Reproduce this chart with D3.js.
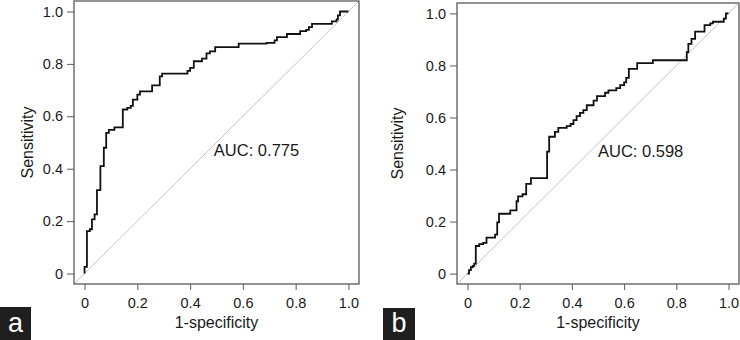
<!DOCTYPE html>
<html>
<head>
<meta charset="utf-8">
<script src="https://cdn.jsdelivr.net/npm/d3@7"></script>
<style>
  html, body { margin: 0; padding: 0; background: #fff; }
  svg { display: block; }
</style>
</head>
<body>
<div id="chart"></div>
<script>
// ROC curves — two panels, step curves + chance diagonal
// points are [1-specificity, sensitivity] at each rise (step-after)

const ROC_A = [
  [0, 0], [0, 0.025], [0.009, 0.162], [0.02, 0.169], [0.028, 0.207],
  [0.038, 0.226], [0.047, 0.318], [0.06, 0.41], [0.073, 0.48], [0.082, 0.537],
  [0.092, 0.548], [0.113, 0.558], [0.145, 0.626], [0.162, 0.632], [0.175, 0.64],
  [0.183, 0.664], [0.2, 0.683], [0.21, 0.695], [0.256, 0.718], [0.285, 0.752],
  [0.294, 0.763], [0.39, 0.773], [0.4, 0.785], [0.414, 0.81], [0.445, 0.82],
  [0.462, 0.84], [0.475, 0.848], [0.495, 0.864], [0.584, 0.877], [0.69, 0.88],
  [0.72, 0.89], [0.729, 0.902], [0.767, 0.914], [0.817, 0.925], [0.84, 0.93],
  [0.85, 0.94], [0.862, 0.953], [0.937, 0.962], [0.955, 0.97], [0.96, 0.985],
  [0.968, 1.0], [1.0, 1.0]
];

const ROC_B = [
  [0, 0], [0.006, 0.013], [0.013, 0.025], [0.02, 0.03], [0.026, 0.038],
  [0.032, 0.106], [0.045, 0.113], [0.06, 0.118], [0.073, 0.138], [0.106, 0.15],
  [0.114, 0.197], [0.121, 0.23], [0.164, 0.243], [0.188, 0.278], [0.194, 0.297],
  [0.211, 0.305], [0.225, 0.345], [0.243, 0.367], [0.305, 0.469], [0.313, 0.526],
  [0.335, 0.545], [0.348, 0.56], [0.38, 0.567], [0.395, 0.575], [0.406, 0.59],
  [0.418, 0.605], [0.431, 0.618], [0.444, 0.628], [0.457, 0.647], [0.483, 0.665],
  [0.496, 0.682], [0.527, 0.695], [0.54, 0.704], [0.57, 0.713], [0.585, 0.724],
  [0.6, 0.735], [0.608, 0.752], [0.618, 0.787], [0.65, 0.809], [0.71, 0.82],
  [0.84, 0.851], [0.846, 0.883], [0.858, 0.902], [0.872, 0.93], [0.908, 0.955],
  [0.93, 0.962], [0.94, 0.968], [0.982, 0.98], [0.99, 1.0], [1.0, 1.0]
];

const TICKS = [0, 0.2, 0.4, 0.6, 0.8, 1.0];
const AUC_LABELS = ['AUC: 0.775', 'AUC: 0.598'];
const AUC_POS = [[0.49, 0.449], [0.5, 0.449]];   // data coords, left/baseline
const PANEL_LETTERS = ['a', 'b'];
const X_TITLE = '1-specificity';
const Y_TITLE = 'Sensitivity';

const W = 740, H = 340;
const FONT = '"Liberation Sans", Arial, Helvetica, sans-serif';

// plot boxes (pixel frame of each panel)
const PANELS = [
  { data: ROC_A, box: { l: 74, r: 359, t: 1, b: 284 }, yTitleX: 27, tag: { x: 0, y: 307, w: 31, h: 33 } },
  { data: ROC_B, box: { l: 457, r: 739, t: 3, b: 284 }, yTitleX: 397, tag: { x: 383, y: 308, w: 32, h: 32 } },
];

const svg = d3.select('#chart').append('svg')
  .attr('width', W).attr('height', H)
  .attr('viewBox', `0 0 ${W} ${H}`);

const fmt = d => d === 0 ? '0' : d.toFixed(1);

PANELS.forEach((p, i) => {
  const b = p.box;
  const g = svg.append('g');

  // R-style 4% padding around [0,1]
  const x = d3.scaleLinear().domain([-0.04, 1.04]).range([b.l, b.r]);
  const y = d3.scaleLinear().domain([-0.04, 1.04]).range([b.b, b.t]);

  // chance diagonal across the whole plot region
  g.append('line')
    .attr('x1', x(-0.04)).attr('y1', y(-0.04))
    .attr('x2', x(1.04)).attr('y2', y(1.04))
    .attr('stroke', '#c4c4c4').attr('stroke-width', 1);

  // ROC step curve
  const line = d3.line()
    .x(d => x(d[0])).y(d => y(d[1]))
    .curve(d3.curveStepAfter);
  g.append('path')
    .attr('d', line(p.data))
    .attr('fill', 'none')
    .attr('stroke', '#111')
    .attr('stroke-width', 1.8)
    .attr('stroke-linejoin', 'miter');

  // frame
  g.append('rect')
    .attr('x', b.l).attr('y', b.t)
    .attr('width', b.r - b.l).attr('height', b.b - b.t)
    .attr('fill', 'none').attr('stroke', '#5a5a5a').attr('stroke-width', 1.3);

  // axes (ticks outside the frame, no domain line)
  const xAxis = g.append('g').attr('transform', `translate(0,${b.b})`)
    .call(d3.axisBottom(x).tickValues(TICKS).tickFormat(fmt).tickSize(6).tickPadding(8));
  const yAxis = g.append('g').attr('transform', `translate(${b.l},0)`)
    .call(d3.axisLeft(y).tickValues(TICKS).tickFormat(fmt).tickSize(7).tickPadding(4));
  [xAxis, yAxis].forEach(a => {
    a.select('.domain').remove();
    a.selectAll('line').attr('stroke', '#5a5a5a').attr('stroke-width', 1);
    a.selectAll('text')
      .attr('font-family', FONT).attr('font-size', 14.5).attr('fill', '#1a1a1a');
  });

  // axis titles
  g.append('text')
    .attr('x', x(0.5)).attr('y', 328)
    .attr('text-anchor', 'middle')
    .attr('font-family', FONT).attr('font-size', 16).attr('fill', '#1a1a1a')
    .text(X_TITLE);
  g.append('text')
    .attr('transform', `translate(${p.yTitleX + 6},${y(0.5)}) rotate(-90)`)
    .attr('text-anchor', 'middle')
    .attr('font-family', FONT).attr('font-size', 16).attr('fill', '#1a1a1a')
    .text(Y_TITLE);

  // AUC annotation
  g.append('text')
    .attr('x', x(AUC_POS[i][0])).attr('y', y(AUC_POS[i][1]))
    .attr('font-family', FONT).attr('font-size', 16.5).attr('fill', '#1a1a1a')
    .text(AUC_LABELS[i]);

  // panel letter tag
  g.append('rect')
    .attr('x', p.tag.x).attr('y', p.tag.y)
    .attr('width', p.tag.w).attr('height', p.tag.h)
    .attr('fill', '#1e1e1e');
  g.append('text')
    .attr('x', p.tag.x + p.tag.w / 2).attr('y', p.tag.y + p.tag.h - 8)
    .attr('text-anchor', 'middle')
    .attr('font-family', FONT).attr('font-size', 27).attr('fill', '#fff')
    .text(PANEL_LETTERS[i]);
});
</script>
</body>
</html>
